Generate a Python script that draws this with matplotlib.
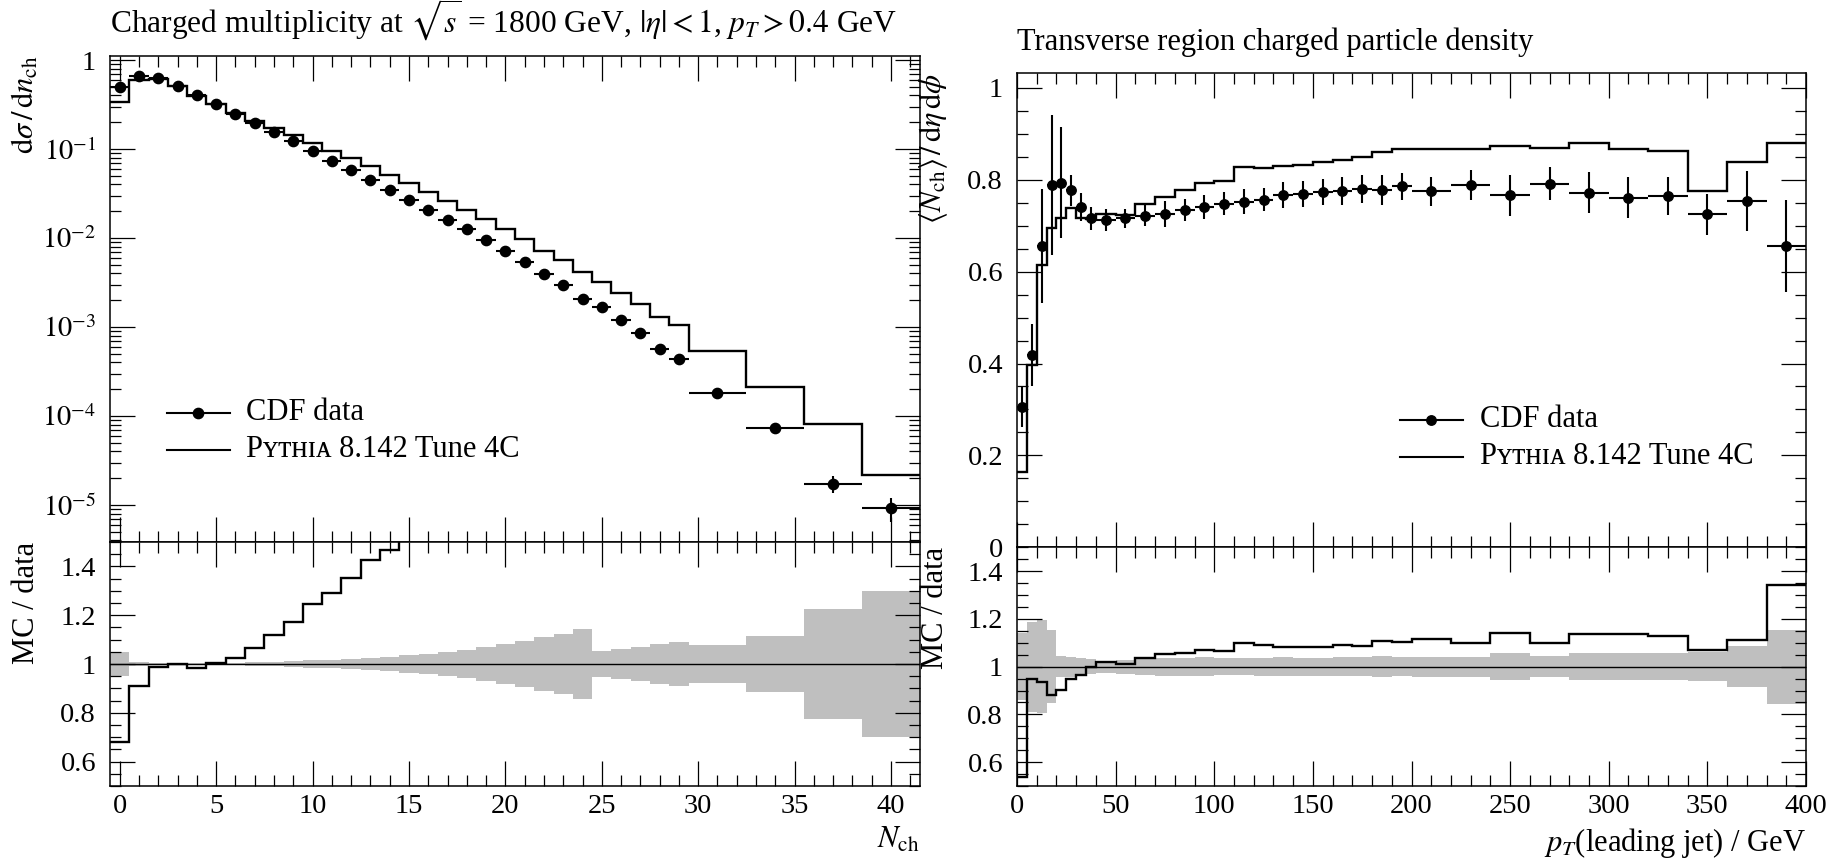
import numpy as np
import matplotlib
matplotlib.use("Agg")
import matplotlib.pyplot as plt
from matplotlib.ticker import MultipleLocator, FixedLocator, LogLocator, FuncFormatter, NullFormatter

plt.rcParams['font.family'] = ['Liberation Serif', 'DejaVu Serif']
plt.rcParams['mathtext.fontset'] = 'stix'

# ---- left panel: charged multiplicity ----
mult_edges = [-0.5, 0.5, 1.5, 2.5, 3.5, 4.5, 5.5, 6.5, 7.5, 8.5, 9.5, 10.5, 11.5, 12.5,
              13.5, 14.5, 15.5, 16.5, 17.5, 18.5, 19.5, 20.5, 21.5, 22.5, 23.5, 24.5,
              25.5, 26.5, 27.5, 28.5, 29.5, 32.5, 35.5, 38.5, 41.5]
mult_data = [0.50, 0.66, 0.62, 0.51, 0.40, 0.318, 0.249, 0.196, 0.154, 0.122, 0.095,
             0.074, 0.0586, 0.0449, 0.0346, 0.0270, 0.0206, 0.0158, 0.0125, 0.0095,
             0.00714, 0.00537, 0.00394, 0.00297, 0.00205, 0.00166, 0.00119, 0.000857,
             0.000566, 0.000437, 0.000183, 7.4e-5, 1.74e-5, 9.3e-6]
mult_relerr = [0.05, 0.008, 0.006, 0.005, 0.005, 0.005, 0.006, 0.007, 0.009, 0.012, 0.015,
               0.018, 0.022, 0.026, 0.030, 0.035, 0.041, 0.048, 0.058, 0.069, 0.080,
               0.094, 0.109, 0.123, 0.142, 0.052, 0.061, 0.070, 0.083, 0.092, 0.077,
               0.116, 0.224, 0.30]
mult_mc = [0.340, 0.600, 0.612, 0.510, 0.394, 0.319, 0.2555, 0.209, 0.172, 0.1432, 0.1182,
           0.0956, 0.0793, 0.0641, 0.0507, 0.0418, 0.0332, 0.0261, 0.0205, 0.0163, 0.0125,
           0.00975, 0.00714, 0.00566, 0.00419, 0.00318, 0.00240, 0.00181, 0.00131,
           0.00105, 0.000533, 0.000212, 8.1e-5, 2.17e-5]

# ---- right panel: transverse region density ----
pt_edges = [0, 5, 10, 15, 20, 25, 30, 35, 40, 50, 60, 70, 80, 90, 100, 110, 120, 130, 140,
            150, 160, 170, 180, 190, 200, 220, 240, 260, 280, 300, 320, 340, 360, 380, 400]
dens_data = [0.306, 0.418, 0.656, 0.788, 0.794, 0.777, 0.741, 0.716, 0.712, 0.716, 0.722,
             0.725, 0.734, 0.741, 0.748, 0.752, 0.757, 0.767, 0.769, 0.773, 0.775, 0.780,
             0.777, 0.786, 0.775, 0.788, 0.766, 0.791, 0.772, 0.761, 0.765, 0.725, 0.753,
             0.655]
dens_err = [0.044, 0.068, 0.124, 0.152, 0.121, 0.034, 0.031, 0.025, 0.024, 0.021, 0.023,
            0.028, 0.024, 0.026, 0.025, 0.027, 0.025, 0.028, 0.029, 0.029, 0.030, 0.031,
            0.033, 0.029, 0.032, 0.033, 0.044, 0.036, 0.045, 0.045, 0.042, 0.045, 0.065,
            0.10]
dens_band = [0.140, 0.188, 0.194, 0.154, 0.045, 0.042, 0.035, 0.031, 0.025, 0.029, 0.035,
             0.038, 0.038, 0.039, 0.036, 0.036, 0.038, 0.039, 0.038, 0.038, 0.039, 0.041,
             0.044, 0.040, 0.042, 0.042, 0.058, 0.045, 0.058, 0.056, 0.056, 0.062, 0.085,
             0.155]
dens_mc = [0.164, 0.397, 0.614, 0.695, 0.716, 0.738, 0.716, 0.714, 0.725, 0.724, 0.748,
           0.763, 0.777, 0.792, 0.797, 0.827, 0.825, 0.829, 0.832, 0.838, 0.844, 0.849,
           0.861, 0.866, 0.866, 0.866, 0.873, 0.870, 0.879, 0.866, 0.863, 0.776, 0.838,
           0.879]

BAND = '#bfbfbf'
FS = 22
TFS = 20.5

W, H = 1848, 860
fig = plt.figure(figsize=(W / 100, H / 100), dpi=100)


def px_axes(l, t, r, b):
    return fig.add_axes([l / W, 1 - b / H, (r - l) / W, (b - t) / H])


def style(ax, xmaj, xmin):
    ax.xaxis.set_major_locator(MultipleLocator(xmaj))
    ax.xaxis.set_minor_locator(MultipleLocator(xmin))
    ax.tick_params(which='both', direction='in', top=True, right=True, width=0.9, color='k')
    ax.tick_params(which='major', length=18)
    ax.tick_params(which='minor', length=8)
    ax.tick_params(axis='x', labelsize=TFS, pad=6)
    ax.tick_params(axis='y', labelsize=TFS, pad=10)
    for s in ax.spines.values():
        s.set_linewidth(1.1)


def legend(ax, x0, x1, xt, y1, y2, dy, ms):
    xm = (x0 + x1) / 2
    ax.plot([x0, x1], [y1, y1], color='k', lw=1.5, transform=ax.transAxes)
    ax.plot([xm], [y1], 'o', color='k', ms=ms, transform=ax.transAxes)
    ax.text(xt, y1 - dy, 'CDF data', transform=ax.transAxes, fontsize=FS, va='baseline')
    ax.plot([x0, x1], [y2, y2], color='k', lw=1.5, transform=ax.transAxes)
    ax.text(xt, y2 - dy, 'P\u028f\u1d1b\u029c\u026a\u1d00 8.142 Tune 4C', transform=ax.transAxes,
            fontsize=FS, va='baseline')


def panel(ax, axr, edges, data, err, band, mc, ms):
    edges = np.array(edges)
    data = np.array(data)
    mc = np.array(mc)
    band = np.array(band)
    x = (edges[1:] + edges[:-1]) / 2
    xerr = (edges[1:] - edges[:-1]) / 2
    ax.stairs(mc, edges, color='k', lw=1.7, baseline=None, zorder=2)
    ax.errorbar(x, data, xerr=xerr, yerr=err, fmt='o', color='k', ms=ms,
                elinewidth=1.5, capsize=0, zorder=3)
    axr.stairs(1 + band, edges, baseline=1 - band, fill=True, color=BAND, lw=0, zorder=1)
    axr.axhline(1, color='k', lw=1.0, zorder=2)
    axr.stairs(mc / data, edges, color='k', lw=1.7, baseline=None, zorder=3)
    ax.set_xlim(edges[0], edges[-1])
    axr.set_xlim(edges[0], edges[-1])
    axr.set_ylim(0.5, 1.5)
    axr.yaxis.set_major_locator(MultipleLocator(0.2))
    axr.yaxis.set_minor_locator(MultipleLocator(0.05))
    axr.yaxis.set_major_formatter(FuncFormatter(lambda v, p: '%g' % round(v, 3)))
    ax.tick_params(axis='x', labelbottom=False)
    axr.set_ylabel('MC / data', fontsize=FS, loc='top')
    axr.yaxis.set_label_coords(-0.085, 1.0)


# left
ax1 = px_axes(110, 55.7, 920, 542)
ax1r = px_axes(110, 542, 920, 786)
style(ax1, 5, 1)
style(ax1r, 5, 1)
ax1.set_yscale('log')
mult_yerr = np.array(mult_data) * np.array(mult_relerr)
panel(ax1, ax1r, mult_edges, mult_data, mult_yerr, mult_relerr, mult_mc, 7.4)
ax1.set_ylim(3.84e-6, 1.118)
ax1.yaxis.set_major_locator(FixedLocator([1e-5, 1e-4, 1e-3, 1e-2, 1e-1, 1]))
ax1.yaxis.set_major_formatter(FuncFormatter(
    lambda v, p: '1' if v >= 1 else r'$10^{%d}$' % round(np.log10(v))))
ax1.yaxis.set_minor_locator(LogLocator(base=10, subs=np.arange(2, 10), numticks=30))
ax1.yaxis.set_minor_formatter(NullFormatter())
ax1.set_title(r'Charged multiplicity at $\sqrt{s}$ = 1800 GeV, $|\eta| < 1$, $p_T > 0.4$ GeV',
              loc='left', pad=16.5, fontsize=22.7)
ax1.set_ylabel(r'$\mathrm{d}\sigma\,/\,\mathrm{d}n_\mathrm{ch}$', fontsize=FS, loc='top')
ax1.yaxis.set_label_coords(-0.085, 1.0)
ax1r.set_xlabel(r'$N_\mathrm{ch}$', fontsize=FS, loc='right')
ax1r.xaxis.set_label_coords(1.0, -0.164)
legend(ax1, 0.070, 0.148, 0.168, 0.266, 0.189, 0.015, 7.4)

# right
ax2 = px_axes(1017, 72.7, 1806, 547.3)
ax2r = px_axes(1017, 547.3, 1806, 786)
style(ax2, 50, 10)
style(ax2r, 50, 10)
panel(ax2, ax2r, pt_edges, dens_data, dens_err, dens_band, dens_mc, 6.8)
ax2.set_ylim(0, 1.033)
ax2.yaxis.set_major_locator(MultipleLocator(0.2))
ax2.yaxis.set_minor_locator(MultipleLocator(0.05))
ax2.yaxis.set_major_formatter(FuncFormatter(lambda v, p: '%g' % round(v, 3)))
ax2.set_title('Transverse region charged particle density', loc='left', pad=16.5, fontsize=FS)
ax2.set_ylabel(r'$\langle N_\mathrm{ch}\rangle\,/\,\mathrm{d}\eta\,\mathrm{d}\phi$',
               fontsize=FS, loc='top')
ax2.yaxis.set_label_coords(-0.085, 1.0)
ax2r.set_xlabel(r'$p_T$(leading jet) / GeV', fontsize=FS, loc='right')
ax2r.xaxis.set_label_coords(1.0, -0.168)
legend(ax2, 0.485, 0.565, 0.587, 0.268, 0.191, 0.0154, 6.8)

fig.savefig('out.png', dpi=100)
